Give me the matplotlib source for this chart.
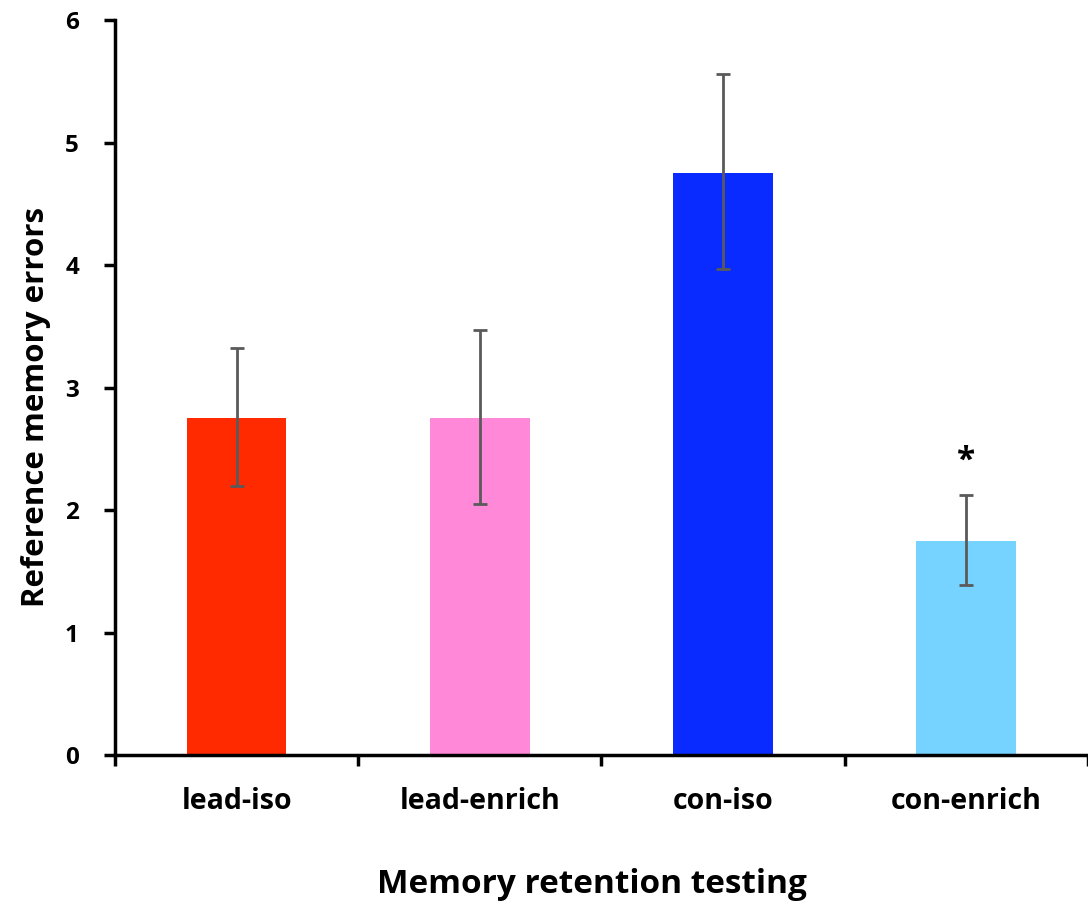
import matplotlib.pyplot as plt

groups = ['lead-iso', 'lead-enrich', 'con-iso', 'con-enrich']
means = [2.75, 2.75, 4.75, 1.75]
err_low = [2.20, 2.05, 3.97, 1.39]
err_high = [3.32, 3.47, 5.56, 2.12]
colors = ['#FF2A00', '#FF88D8', '#0A2BFF', '#76D3FF']

plt.rcParams['font.family'] = ['Open Sans', 'DejaVu Sans']
plt.rcParams['font.weight'] = 'bold'

fig = plt.figure(figsize=(10.88, 9.09), dpi=100)
ax = fig.add_axes([0.1057, 0.1694, 0.894, 0.8086])

x = range(len(groups))
yerr = [[m - lo for m, lo in zip(means, err_low)],
        [hi - m for m, hi in zip(means, err_high)]]
ax.bar(x, means, width=0.41, color=colors, zorder=2)
ax.errorbar(x, means, yerr=yerr, fmt='none', ecolor='#5a5a5a', elinewidth=2,
            capsize=5, capthick=2, zorder=3)

# significance mark above con-enrich
ax.text(3, 2.40, '*', ha='center', va='center', fontsize=24, fontweight='bold')

ax.set_xlim(-0.5, 3.5)
ax.set_ylim(0, 6)
ax.set_yticks(range(0, 7))
ax.set_xticks([-0.5, 0.5, 1.5, 2.5, 3.5])
ax.set_xticklabels([])
ax.set_xticks(list(x), minor=True)
ax.set_xticklabels(groups, minor=True)
ax.tick_params(axis='x', which='minor', length=0, pad=23, labelsize=20.5)
ax.tick_params(axis='x', which='major', direction='out', length=8, width=2.5)
ax.tick_params(axis='y', direction='out', length=8, width=2.5, labelsize=17.5, pad=18)

for side in ['top', 'right']:
    ax.spines[side].set_visible(False)
for side in ['left', 'bottom']:
    ax.spines[side].set_linewidth(2.5)

ax.set_xlabel('Memory retention testing', fontsize=24, fontweight='bold')
ax.set_ylabel('Reference memory errors', fontsize=22.5, fontweight='bold')
ax.xaxis.set_label_coords(0.49, -0.154)
ax.yaxis.set_label_coords(-0.066, 0.473)

fig.savefig('out.png', dpi=100)
